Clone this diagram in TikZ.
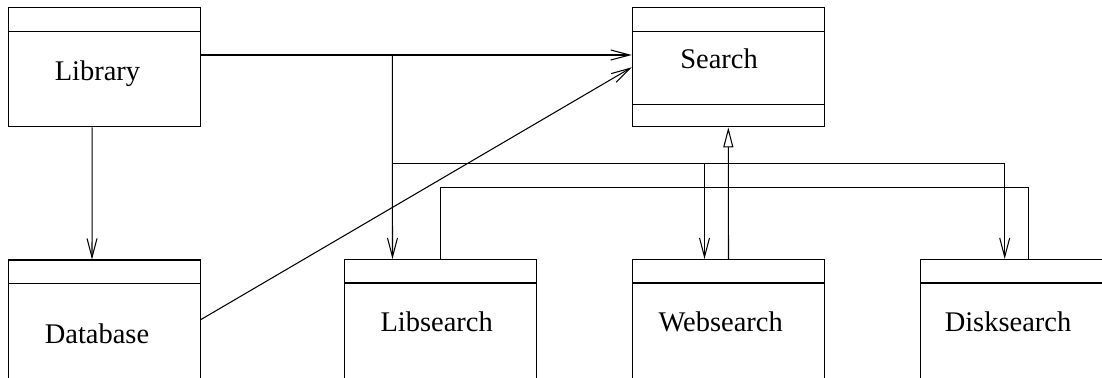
\documentclass[tikz,border=0pt]{standalone}
\usepackage{fontspec}
\setmainfont{Liberation Serif}
\usetikzlibrary{arrows.meta,calc}
\begin{document}
\begin{tikzpicture}[x=0.02cm,y=-0.02cm,line width=0.6pt,
  >={Straight Barb[length=0.38cm,width=0.2cm]},
  cls/.style={draw,rectangle,minimum width=3.84cm,minimum height=2.38cm,inner sep=0pt},
  clsname/.style={anchor=base,inner sep=0pt,font=\fontsize{16.2}{19}\selectfont},
  inherit/.style={-{Triangle[open,length=0.4cm,width=0.2cm]}}]
\useasboundingbox (0,0) rectangle (1102,378);
% classes
\node[cls] (lib)  at (104.7,67.3) {};
\node[cls] (srch) at (728.3,67.3) {};
\node[cls] (db)   at (104.5,319.5) {};
\node[cls] (libs) at (440.5,319) {};
\node[cls] (webs) at (728.5,319) {};
\node[cls] (disk) at (1016.7,319) {};
\foreach \n in {lib,srch,db,libs,webs,disk}
  \draw ($(\n.north west)+(0,24)$) -- ($(\n.north east)+(0,24)$);
\draw ($(srch.south west)+(0,-23)$) -- ($(srch.south east)+(0,-23)$);
\node[clsname] (libtxt)  at (97.5,81)    {Library};
\node[clsname] (srchtxt) at (719,68.3)   {Search};
\node[clsname] (dbtxt)   at (97,343.3)   {Database};
\node[clsname] (libstxt) at (436.7,331.7) {Libsearch};
\node[clsname] (webstxt) at (720.7,331.7) {Websearch};
\node[clsname] (disktxt) at (1008,331.7) {Disksearch};
% associations
\coordinate (split) at (392.3,55);
\coordinate (bus) at (392.3,163.3);
\coordinate (webin) at ($(webs.north)+(-24,0)$);
\draw[->] ($(lib.east)+(0,-12.3)$) -- ($(srch.west)+(0,-12.3)$);
\draw[->] ($(lib.south)+(-12.5,0)$) -- ($(db.north)+(-12.5,0)$);
\draw[->] (db.east) -- (srch.west);
\draw[->] (split) -- ($(libs.north)+(-48,0)$);
\draw[->] (bus) -| ($(disk.north)+(-12,0)$);
\draw[->] (webin |- bus) -- (webin);
% generalization
\coordinate (gen) at (0,187.7);
\draw[inherit] (webs.north) -- (srch.south);
\draw (libs.north) -- (libs.north |- gen) -| ($(disk.north)+(11.6,0)$);
\end{tikzpicture}
\end{document}
